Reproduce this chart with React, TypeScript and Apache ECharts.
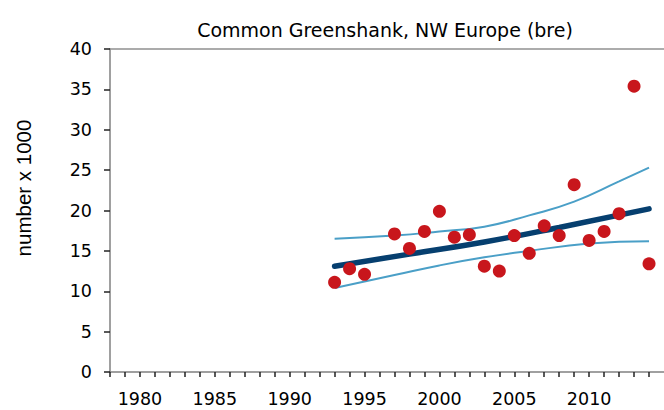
import React, { useEffect, useRef } from "react";
import * as echarts from "echarts";

const TITLE = "Common Greenshank, NW Europe (bre)";
const Y_NAME = "number x 1000";

const pointYears = [1993, 1994, 1995, 1997, 1998, 1999, 2000, 2001, 2002, 2003, 2004, 2005, 2006, 2007, 2008, 2009, 2010, 2011, 2012, 2013, 2014];
const pointValues = [11.1, 12.8, 12.1, 17.1, 15.3, 17.4, 19.9, 16.7, 17.0, 13.1, 12.5, 16.9, 14.7, 18.1, 16.9, 23.2, 16.3, 17.4, 19.6, 35.4, 13.4];

const trendYears = [1993, 1998, 2003, 2008, 2014];
const trendValues = [13.1, 14.6, 16.1, 17.9, 20.2];

const upperYears = [1993, 1997, 2000, 2003, 2006, 2009, 2012, 2014];
const upperValues = [16.5, 16.9, 17.4, 18.0, 19.4, 21.1, 23.6, 25.3];

const lowerYears = [1993, 1997, 2000, 2003, 2006, 2010, 2014];
const lowerValues = [10.4, 12.0, 13.2, 14.2, 15.0, 15.9, 16.2];

const pairs = (xs: number[], ys: number[]) => xs.map((x, i) => [x, ys[i]]);

export default function App() {
  const ref = useRef<HTMLDivElement>(null);
  useEffect(() => {
    if (!ref.current) return;
    const chart = echarts.init(ref.current, undefined, { renderer: "svg" });
    const axisFont = { fontFamily: "DejaVu Sans", fontSize: 17.5, color: "#000" };
    chart.setOption({
      animation: false,
      backgroundColor: "#fff",
      title: {
        text: TITLE,
        left: 380,
        top: 15,
        textAlign: "center",
        textStyle: { fontFamily: "DejaVu Sans", fontSize: 19, fontWeight: "normal", color: "#000" },
      },
      graphic: [
        {
          type: "text",
          x: 23,
          y: 188,
          rotation: Math.PI / 2,
          style: {
            text: Y_NAME,
            fontFamily: "Liberation Sans",
            fontSize: 20.5,
            fill: "#000",
            textAlign: "center",
            textVerticalAlign: "middle",
          },
        },
      ],
      grid: { left: 110, top: 49, width: 558, height: 323 },
      xAxis: [
        {
          type: "value",
          min: 1978,
          max: 2015,
          interval: 1,
          splitLine: { show: false },
          axisLine: { show: true, lineStyle: { color: "#808080", width: 1.5 } },
          axisTick: { show: true, length: 5, lineStyle: { color: "#222", width: 1.5 } },
          axisLabel: {
            ...axisFont,
            margin: 18,
            showMaxLabel: false,
            formatter: (v: number) => (v % 5 === 0 ? String(v) : ""),
          },
        },
        {
          type: "value",
          position: "top",
          min: 1978,
          max: 2015,
          splitLine: { show: false },
          axisLine: { show: true, lineStyle: { color: "#909090", width: 1.5 } },
          axisTick: { show: false },
          axisLabel: { show: false },
        },
      ],
      yAxis: {
        type: "value",
        min: 0,
        max: 40,
        interval: 5,
        splitLine: { show: false },
        axisLine: { show: true, lineStyle: { color: "#808080", width: 1.5 } },
        axisTick: { show: true, length: 6, lineStyle: { color: "#222", width: 1.5 } },
        axisLabel: { ...axisFont, margin: 18 },
      },
      series: [
        {
          type: "line",
          data: pairs(upperYears, upperValues),
          smooth: true,
          showSymbol: false,
          lineStyle: { color: "#4a9fc7", width: 2 },
          z: 2,
        },
        {
          type: "line",
          data: pairs(lowerYears, lowerValues),
          smooth: true,
          showSymbol: false,
          lineStyle: { color: "#4a9fc7", width: 2 },
          z: 2,
        },
        {
          type: "line",
          data: pairs(trendYears, trendValues),
          smooth: true,
          showSymbol: false,
          lineStyle: { color: "#063f6f", width: 5.5, cap: "round" },
          z: 3,
        },
        {
          type: "scatter",
          data: pairs(pointYears, pointValues),
          symbol: "circle",
          symbolSize: 13,
          itemStyle: { color: "#c8161c", opacity: 1 },
          z: 4,
        },
      ],
    });
    return () => chart.dispose();
  }, []);
  return (
    <div
      ref={ref}
      style={{ position: "absolute", left: 0, top: 0, width: 664, height: 410 }}
    />
  );
}
